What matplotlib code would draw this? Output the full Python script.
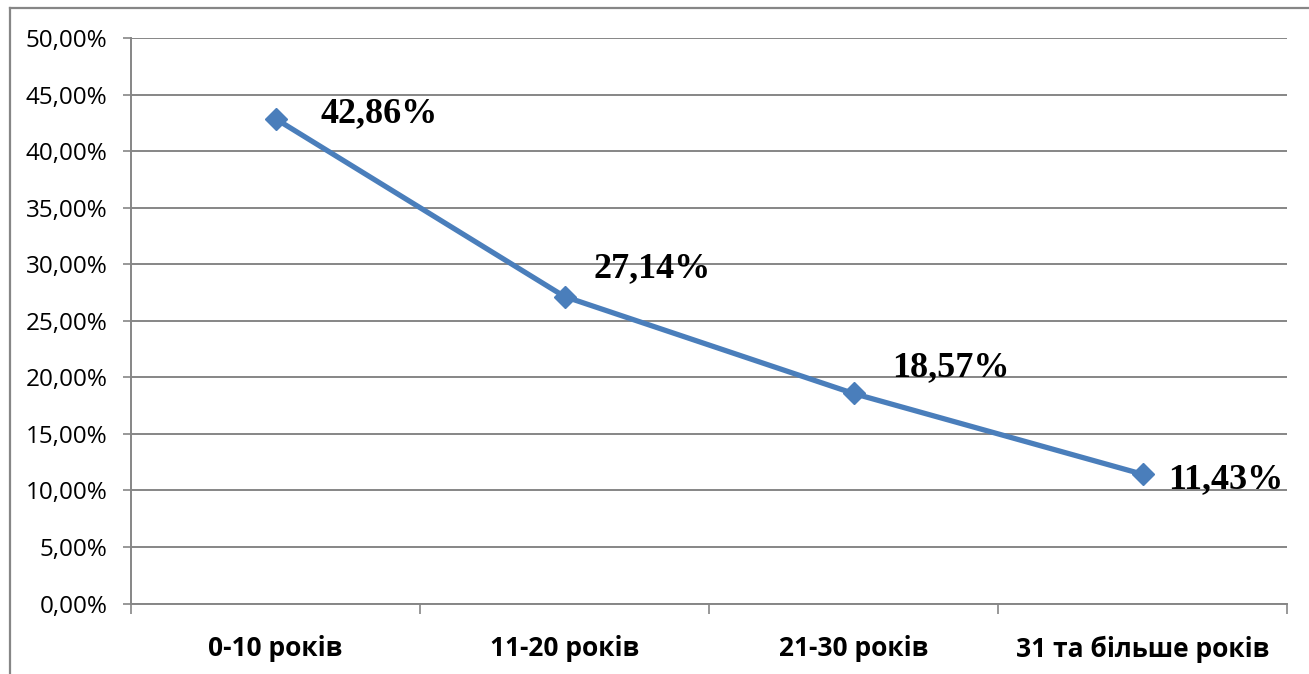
import matplotlib
matplotlib.use("Agg")
import matplotlib.pyplot as plt
from matplotlib.lines import Line2D
from matplotlib.ticker import FixedLocator

categories = ["0-10 років", "11-20 років", "21-30 років", "31 та більше років"]
values = [42.86, 27.14, 18.57, 11.43]
value_labels = ["42,86%", "27,14%", "18,57%", "11,43%"]
y_ticks = [0, 5, 10, 15, 20, 25, 30, 35, 40, 45, 50]
y_tick_labels = ["0,00%", "5,00%", "10,00%", "15,00%", "20,00%", "25,00%",
                 "30,00%", "35,00%", "40,00%", "45,00%", "50,00%"]

W, H = 1309, 674
fig = plt.figure(figsize=(W / 100, H / 100), dpi=100)
fig.patch.set_facecolor("white")

left, right, top, bottom = 131, 1287, 38, 603.5
ax = fig.add_axes([left / W, 1 - bottom / H, (right - left) / W, (bottom - top) / H])

grid_c = "#868686"
x = list(range(len(categories)))
ax.plot(x, values, color="#4A7EBB", lw=3.8, marker="D", markersize=11,
        markerfacecolor="#4A7EBB", markeredgecolor="#4A7EBB", zorder=5,
        solid_capstyle="round")

ax.set_xlim(-0.5, len(categories) - 0.5)
ax.set_ylim(0, 50)
ax.set_yticks(y_ticks)
ax.set_yticklabels(y_tick_labels, fontsize=17.5, family="Open Sans")
ax.yaxis.grid(True, color=grid_c, lw=1.4)
ax.set_axisbelow(True)

ax.set_xticks(x)
ax.set_xticklabels(categories, fontsize=19, family="Open Sans", fontweight="bold")
ax.xaxis.set_minor_locator(FixedLocator([i - 0.5 for i in range(len(categories) + 1)]))
ax.tick_params(axis="x", which="major", length=0, pad=23)
ax.tick_params(axis="x", which="minor", length=7.5, width=1.2, color=grid_c)
ax.tick_params(axis="y", length=6, width=1.2, color=grid_c, pad=11)

for s in ["top", "right"]:
    ax.spines[s].set_visible(False)
for s in ["left", "bottom"]:
    ax.spines[s].set_color(grid_c)
    ax.spines[s].set_linewidth(1.4)

offsets = [(45, -3), (29, 19), (39, 17), (26, -14)]
for xi, v, lab, (dx, dy) in zip(x, values, value_labels, offsets):
    ax.annotate(lab, (xi, v), xytext=(dx, dy), textcoords="offset pixels",
                ha="left", va="baseline", fontsize=26, fontweight="bold",
                family="Liberation Serif", color="black", zorder=6)

# outer chart border (left and top visible)
fig.add_artist(Line2D([10 / W, 10 / W], [0, 1 - 8 / H], transform=fig.transFigure,
                      color=grid_c, lw=1.6))
fig.add_artist(Line2D([10 / W, 1], [1 - 8 / H, 1 - 8 / H], transform=fig.transFigure,
                      color=grid_c, lw=1.6))

fig.savefig("out.png", dpi=100)
